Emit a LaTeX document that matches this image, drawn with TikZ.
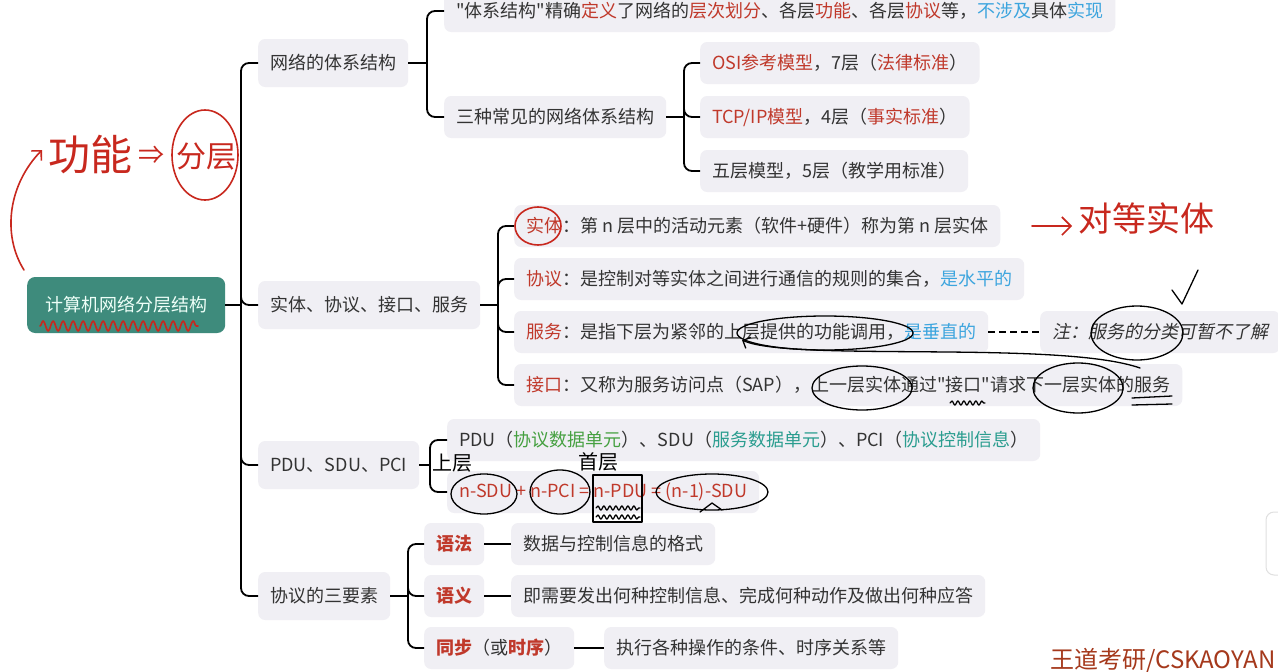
\documentclass[tikz,border=0pt]{standalone}
\usepackage{fontspec}
\setmainfont{Noto Sans CJK SC}[Ligatures=TeXOff]
\newfontfamily\cjkit[FakeSlant=0.2,Ligatures=TeXOff]{Noto Sans CJK SC}
\usetikzlibrary{arrows.meta,decorations.pathmorphing,calc}
\definecolor{boxgray}{HTML}{F0EFF4}
\definecolor{txt}{HTML}{333333}
\definecolor{redt}{HTML}{C0392B}
\definecolor{bluet}{HTML}{3DA5DE}
\definecolor{greent}{HTML}{45A040}
\definecolor{tealt}{HTML}{2A9D8F}
\definecolor{rootfill}{HTML}{3E8B7C}
\definecolor{roottext}{HTML}{EEFFF8}
\definecolor{handred}{HTML}{C8281E}
\definecolor{wm}{HTML}{A5391C}
\newcommand\myR[1]{\textcolor{redt}{#1}}
\newcommand\myRB[1]{\textcolor{redt}{\bfseries #1}}
\newcommand\myB[1]{\textcolor{bluet}{#1}}
\newcommand\myG[1]{\textcolor{greent}{#1}}
\newcommand\myT[1]{\textcolor{tealt}{#1}}
\newcommand\fs{\fontsize{18}{21}\selectfont}
\tikzset{
  box/.style={fill=boxgray, rounded corners=7pt, inner xsep=12pt, inner ysep=0pt,
    minimum height=42pt, anchor=west, text=txt, font=\fs},
  lonebox/.style={box, minimum height=48pt},
  rootbox/.style={fill=rootfill, rounded corners=8pt, inner xsep=18pt, minimum height=56pt,
    anchor=west, text=roottext, font=\fs},
  conn/.style={line width=1.8pt, draw=black, rounded corners=8pt},
  hr/.style={draw=handred, line width=1.6pt, line cap=round, line join=round},
  hk/.style={draw=black, line width=1.3pt, line cap=round, line join=round},
}
\begin{document}
\begin{tikzpicture}[x=1pt,y=-1pt]
\useasboundingbox (0,0) rectangle (1278,672);
\clip (0,0) rectangle (1278,672);
\fill[white] (0,0) rectangle (1278,672);

% partial box at right edge
\draw[black!12, fill=white, rounded corners=8pt, line width=1pt] (1266,512) rectangle (1310,575);

% root and level 1
\node[rootbox] (root) at (27,305) {计算机网络分层结构};
\node[lonebox] (a) at (258,63) {网络的体系结构};
\node[lonebox] (b) at (258,305) {实体、协议、接口、服务};
\node[lonebox] (c) at (258,465) {PDU、SDU、PCI};
\node[lonebox] (d) at (258,596) {协议的三要素};

% level 2: architecture
\node[box] (a1) at (444,11) {"体系结构"精确\myR{定义}了网络的\myR{层次划分}、各层\myR{功能}、各层\myR{协议}等，\myB{不涉及}具体\myB{实现}};
\node[box] (a2) at (444,117) {三种常见的网络体系结构};
\node[box] (a21) at (700,63) {\myR{OSI参考模型}，7层（\myR{法律标准}）};
\node[box] (a22) at (700,117) {\myR{TCP/IP模型}，4层（\myR{事实标准}）};
\node[box] (a23) at (700,171) {五层模型，5层（教学用标准）};

% level 2: entity etc
\node[box] (b1) at (514,226) {\myR{实体}：第 n 层中的活动元素（软件+硬件）称为第 n 层实体};
\node[box] (b2) at (514,279) {\myR{协议}：是控制对等实体之间进行通信的规则的集合，\myB{是水平的}};
\node[box] (b3) at (514,332) {\myR{服务}：是指下层为紧邻的上层提供的功能调用，\myB{是垂直的}};
\node[box] (b3n) at (1040,332) {\cjkit 注：服务的分类可暂不了解};
\node[box] (b4) at (514,385) {\myR{接口}：又称为服务访问点（SAP），上一层实体通过"接口"请求下一层实体的服务};

% level 2: PDU
\node[box] (c1) at (447,440) {PDU（\myG{协议数据单元}）、SDU（\myT{服务数据单元}）、PCI（\myT{协议控制信息}）};
\node[box] (c2) at (447,492) {\myR{n-SDU + n-PCI = n-PDU = (n-1)-SDU}};

% level 2: three elements
\node[box] (d1) at (424,544) {\myRB{语法}};
\node[box] (d1b) at (511,544) {数据与控制信息的格式};
\node[box] (d2) at (424,596) {\myRB{语义}};
\node[box] (d2b) at (511,596) {即需要发出何种控制信息、完成何种动作及做出何种应答};
\node[box] (d3) at (424,648) {\myRB{同步}（或\myRB{时序}）};
\node[box] (d3b) at (604,648) {执行各种操作的条件、时序关系等};

% connectors
\coordinate (j1) at (241,305);
\draw[conn] (root.east) -- (j1);
\foreach \n in {a,b,c,d} \draw[conn] (j1) |- (\n.west);

\coordinate (ja) at (427,63);
\draw[conn] (a.east) -- (ja);
\foreach \n in {a1,a2} \draw[conn] (ja) |- (\n.west);

\coordinate (ja2) at (684,117);
\draw[conn] (a2.east) -- (ja2);
\foreach \n in {a21,a22,a23} \draw[conn] (ja2) |- (\n.west);

\coordinate (jb) at (498,305);
\draw[conn] (b.east) -- (jb);
\foreach \n in {b1,b2,b3,b4} \draw[conn] (jb) |- (\n.west);
\draw[line width=1.8pt, dash pattern=on 7pt off 4pt] (b3.east) -- (b3n.west);

\coordinate (jc) at (430,465);
\draw[conn] (c.east) -- (jc);
\foreach \n in {c1,c2} \draw[conn] (jc) |- (\n.west);

\coordinate (jd) at (408,596);
\draw[conn] (d.east) -- (jd);
\foreach \n in {d1,d2,d3} \draw[conn] (jd) |- (\n.west);
\draw[conn] (d1.east) -- (d1b.west);
\draw[conn] (d2.east) -- (d2b.west);
\draw[conn] (d3.east) -- (d3b.west);

% watermark
\node[anchor=west, text=wm, font=\fontsize{24}{26}\selectfont, inner sep=0pt] (wmk) at (1050,661) {王道考研/CSKAOYAN};

% red handwriting
\node[anchor=west, text=handred, font=\fontsize{42}{44}\selectfont, inner sep=0pt] (hw1) at (48,155) {功能};
\node[anchor=west, text=handred, font=\fontsize{26}{28}\selectfont, inner sep=0pt] (hw1b) at (138,155) {⇒};
\node[anchor=west, text=handred, font=\fontsize{30}{32}\selectfont, inner sep=0pt] (hw1c) at (176,157) {分层};
\draw[hr] (205,155) ellipse [x radius=33pt, y radius=45pt];
\draw[hr, -{Straight Barb[length=7pt]}] (24,270) .. controls (2,235) and (8,185) .. (42,150);
\draw[hr, decorate, decoration={snake, amplitude=5pt, segment length=10pt}] (40,326) -- (198,326);
\draw[hr] (538,226) ellipse [x radius=23pt, y radius=19pt];
\draw[hr, -{Straight Barb[length=9pt]}] (1032,226) -- (1072,226);
\node[anchor=west, text=handred, font=\fontsize{34}{36}\selectfont, inner sep=0pt] (hw2) at (1078,218) {对等实体};

% black handwriting
\draw[hk] (1172,290) -- (1182,304) -- (1198,270);
\draw[hk] (1137,333) ellipse [x radius=46pt, y radius=27pt];
\draw[hk] (825,333) ellipse [x radius=88pt, y radius=17pt];
\draw[hk] (862,388) ellipse [x radius=50pt, y radius=22pt];
\draw[hk] (1078,388) ellipse [x radius=45pt, y radius=25pt];
\draw[hk, -{Straight Barb[length=6pt]}] (1140,368) .. controls (1060,340) and (790,362) .. (742,340);
\draw[hk, decorate, decoration={snake, amplitude=2pt, segment length=6pt}] (950,403) -- (985,403);
\draw[hk] (1132,398) -- (1172,396);
\draw[hk] (1132,405) -- (1172,404);
\draw[hk] (484,494) ellipse [x radius=33pt, y radius=20pt];
\draw[hk] (560,492) ellipse [x radius=30pt, y radius=22pt];
\draw[hk] (593,475) rectangle (642,522);
\draw[hk, decorate, decoration={snake, amplitude=2pt, segment length=6pt}] (596,508) -- (640,508);
\draw[hk, decorate, decoration={snake, amplitude=2pt, segment length=6pt}] (596,517) -- (640,517);
\draw[hk] (712,492) ellipse [x radius=56pt, y radius=18pt];
\draw[hk] (700,512) -- (712,503) -- (722,510);
\node[anchor=west, text=black, font=\fontsize{20}{22}\selectfont, inner sep=0pt] (hw3) at (432,463) {上层};
\node[anchor=west, text=black, font=\fontsize{20}{22}\selectfont, inner sep=0pt] (hw4) at (578,462) {首层};
\end{tikzpicture}
\end{document}
